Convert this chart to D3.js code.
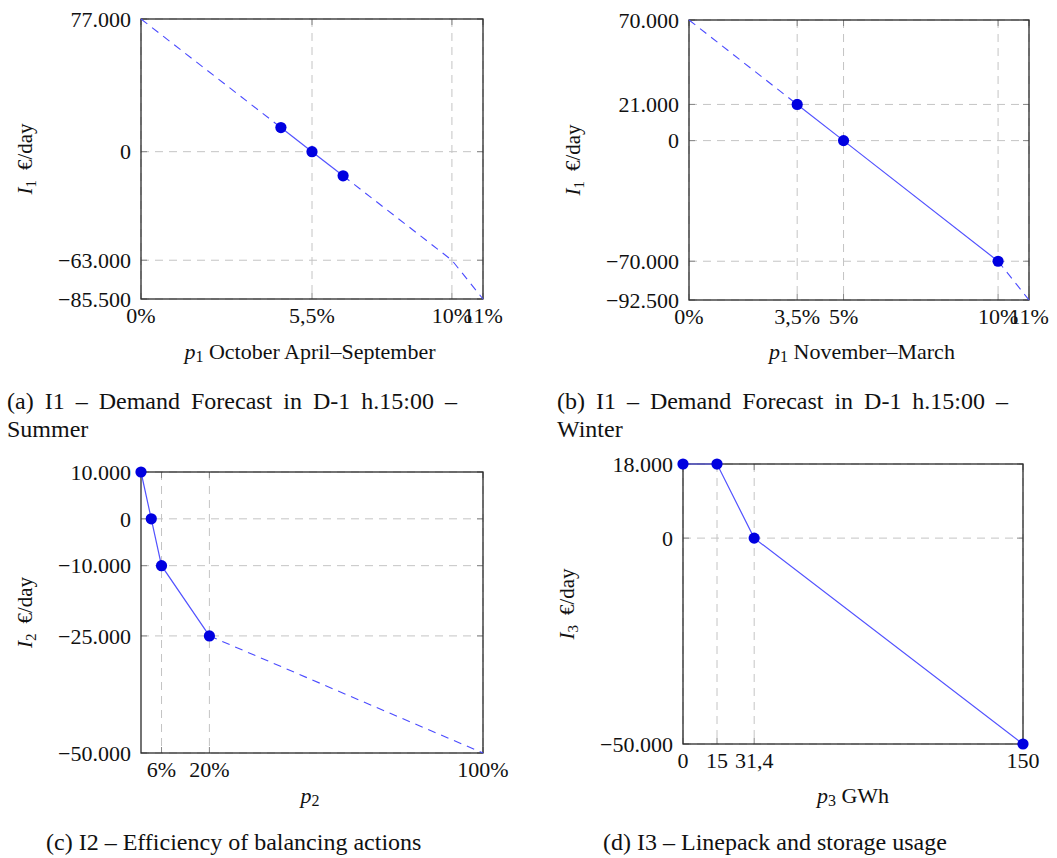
<!DOCTYPE html>
<html>
<head>
<meta charset="utf-8">
<script src="https://cdn.jsdelivr.net/npm/d3@7"></script>
<style>
  body { margin: 0; background: #fff; }
  text { font-family: "Liberation Serif", "Times New Roman", serif; fill: #111; }
</style>
</head>
<body>
<svg id="chart" width="1057" height="858"></svg>
<script>
// ---- data ----
// (a) summer
const aPtsX = [4.5, 5.5, 6.5];
const aPtsY = [14000, 0, -14000];
const aDashX = [[0, 4.5], [6.5, 10, 11]];
const aDashY = [[77000, 14000], [-14000, -63000, -85500]];
const aXTicks = [0, 5.5, 10, 11];
const aXLabels = ["0%", "5,5%", "10%", "11%"];
const aYTicks = [77000, 0, -63000, -85500];

// (b) winter
const bPtsX = [3.5, 5, 10];
const bPtsY = [21000, 0, -70000];
const bDashX = [[0, 3.5], [10, 11]];
const bDashY = [[70000, 21000], [-70000, -92500]];
const bXTicks = [0, 3.5, 5, 10, 11];
const bXLabels = ["0%", "3,5%", "5%", "10%", "11%"];
const bYTicks = [70000, 21000, 0, -70000, -92500];

// (c) balancing actions
const cPtsX = [0, 3, 6, 20];
const cPtsY = [10000, 0, -10000, -25000];
const cDashX = [[20, 100]];
const cDashY = [[-25000, -50000]];
const cXTicks = [6, 20, 100];
const cXLabels = ["6%", "20%", "100%"];
const cYTicks = [10000, 0, -10000, -25000, -50000];

// (d) linepack
const dPtsX = [0, 15, 31.4, 150];
const dPtsY = [18000, 18000, 0, -50000];
const dXTicks = [0, 15, 31.4, 150];
const dXLabels = ["0", "15", "31,4", "150"];
const dYTicks = [18000, 0, -50000];

const loc = d3.formatLocale({ decimal: ",", thousands: ".", grouping: [3], currency: ["", "€"], minus: "\u2212" });
const fmt = loc.format(",");

const svg = d3.select("#chart");
svg.append("rect").attr("width", 1057).attr("height", 858).attr("fill", "#fff");

function drawPanel(p) {
  const x = d3.scaleLinear().domain(p.xDomain).range([p.left, p.right]);
  const y = d3.scaleLinear().domain(p.yDomain).range([p.bottom, p.top]);
  const g = svg.append("g");

  // grid
  g.selectAll(".gx").data(p.xTicks).join("line")
    .attr("x1", d => x(d)).attr("x2", d => x(d))
    .attr("y1", p.top).attr("y2", p.bottom)
    .attr("stroke", "#c4c4c4").attr("stroke-dasharray", "8,6");
  g.selectAll(".gy").data(p.yTicks).join("line")
    .attr("y1", d => y(d)).attr("y2", d => y(d))
    .attr("x1", p.left).attr("x2", p.right)
    .attr("stroke", "#c4c4c4").attr("stroke-dasharray", "8,6");

  // tick marks inside on all sides
  const tl = 6;
  p.xTicks.forEach(d => {
    g.append("line").attr("x1", x(d)).attr("x2", x(d)).attr("y1", p.bottom).attr("y2", p.bottom - tl).attr("stroke", "#888");
    g.append("line").attr("x1", x(d)).attr("x2", x(d)).attr("y1", p.top).attr("y2", p.top + tl).attr("stroke", "#888");
  });
  p.yTicks.forEach(d => {
    g.append("line").attr("y1", y(d)).attr("y2", y(d)).attr("x1", p.left).attr("x2", p.left + tl).attr("stroke", "#888");
    g.append("line").attr("y1", y(d)).attr("y2", y(d)).attr("x1", p.right).attr("x2", p.right - tl).attr("stroke", "#888");
  });

  // box
  g.append("rect").attr("x", p.left).attr("y", p.top)
    .attr("width", p.right - p.left).attr("height", p.bottom - p.top)
    .attr("fill", "none").attr("stroke", "#2a2a2a").attr("stroke-width", 1.3);

  // tick labels
  g.selectAll(".xl").data(p.xTicks).join("text")
    .attr("x", d => x(d)).attr("y", p.bottom + 24)
    .attr("text-anchor", "middle").attr("font-size", 22)
    .text((d, i) => p.xLabels[i]);
  g.selectAll(".yl").data(p.yTicks).join("text")
    .attr("x", p.left - 10).attr("y", d => y(d)).attr("dy", "0.35em")
    .attr("text-anchor", "end").attr("font-size", 22)
    .text(d => fmt(d));

  const line = d3.line().x(d => x(d[0])).y(d => y(d[1]));

  // dashed continuation
  (p.dashX || []).forEach((xs, k) => {
    g.append("path").datum(xs.map((v, i) => [v, p.dashY[k][i]]))
      .attr("d", line).attr("fill", "none")
      .attr("stroke", "#4a4aff").attr("stroke-width", 1.1)
      .attr("stroke-dasharray", "8,6");
  });

  // solid line + markers
  const pts = p.ptsX.map((v, i) => [v, p.ptsY[i]]);
  g.append("path").datum(pts).attr("d", line).attr("fill", "none")
    .attr("stroke", "#5252ff").attr("stroke-width", 1.2);
  g.selectAll(".pt").data(pts).join("circle")
    .attr("cx", d => x(d[0])).attr("cy", d => y(d[1])).attr("r", 5.6)
    .attr("fill", "#0000e0");

  // y label
  const yl = g.append("text")
    .attr("transform", `translate(${p.yLabelX},${(p.top + p.bottom) / 2}) rotate(-90)`)
    .attr("text-anchor", "middle").attr("dy", "0.35em").attr("font-size", 21);
  yl.append("tspan").attr("font-style", "italic").text("I");
  yl.append("tspan").attr("font-size", 15).attr("dy", 4).text(p.ySub);
  yl.append("tspan").attr("dy", -4).attr("dx", 10).text("€/day");

  // x label
  const xl = g.append("text")
    .attr("x", p.xLabelX).attr("y", p.bottom + p.xLabelDy)
    .attr("text-anchor", "middle").attr("font-size", 22);
  xl.append("tspan").attr("font-style", "italic").text("p");
  xl.append("tspan").attr("font-size", 16).attr("dy", 3).text(p.xSub);
  if (p.xText) xl.append("tspan").attr("dy", -3).text(" " + p.xText);
}

function justifyLine(words, x0, x1, yb) {
  const els = words.map(w => svg.append("text").attr("y", yb).attr("font-size", 24).text(w));
  const widths = els.map(e => e.node().getComputedTextLength());
  const gap = (x1 - x0 - d3.sum(widths)) / (words.length - 1);
  let cx = x0;
  els.forEach((e, i) => { e.attr("x", cx); cx += widths[i] + gap; });
}

drawPanel({ left: 141, right: 483, top: 19, bottom: 299, xDomain: [0, 11], yDomain: [-85500, 77000],
  ptsX: aPtsX, ptsY: aPtsY, dashX: aDashX, dashY: aDashY, xTicks: aXTicks, xLabels: aXLabels, yTicks: aYTicks,
  yLabelX: 25, ySub: "1", xLabelX: 310, xLabelDy: 60, xSub: "1", xText: "October April–September" });

drawPanel({ left: 689, right: 1029, top: 20, bottom: 300, xDomain: [0, 11], yDomain: [-92500, 70000],
  ptsX: bPtsX, ptsY: bPtsY, dashX: bDashX, dashY: bDashY, xTicks: bXTicks, xLabels: bXLabels, yTicks: bYTicks,
  yLabelX: 573, ySub: "1", xLabelX: 862, xLabelDy: 59, xSub: "1", xText: "November–March" });

drawPanel({ left: 141, right: 483, top: 472, bottom: 753, xDomain: [0, 100], yDomain: [-50000, 10000],
  ptsX: cPtsX, ptsY: cPtsY, dashX: cDashX, dashY: cDashY, xTicks: cXTicks, xLabels: cXLabels, yTicks: cYTicks,
  yLabelX: 25, ySub: "2", xLabelX: 310, xLabelDy: 50, xSub: "2", xText: "" });

drawPanel({ left: 683, right: 1023, top: 464, bottom: 744, xDomain: [0, 150], yDomain: [-50000, 18000],
  ptsX: dPtsX, ptsY: dPtsY, xTicks: dXTicks, xLabels: dXLabels, yTicks: dYTicks,
  yLabelX: 567, ySub: "3", xLabelX: 853, xLabelDy: 59, xSub: "3", xText: "GWh" });

// captions
justifyLine(["(a)", "I1", "–", "Demand", "Forecast", "in", "D-1", "h.15:00", "–"], 7, 457, 409);
svg.append("text").attr("x", 7).attr("y", 437).attr("font-size", 24).text("Summer");
justifyLine(["(b)", "I1", "–", "Demand", "Forecast", "in", "D-1", "h.15:00", "–"], 557, 1008, 409);
svg.append("text").attr("x", 557).attr("y", 437).attr("font-size", 24).text("Winter");
svg.append("text").attr("x", 46).attr("y", 850).attr("font-size", 24).text("(c) I2 – Efficiency of balancing actions");
svg.append("text").attr("x", 603).attr("y", 850).attr("font-size", 24).text("(d) I3 – Linepack and storage usage");
</script>
</body>
</html>
